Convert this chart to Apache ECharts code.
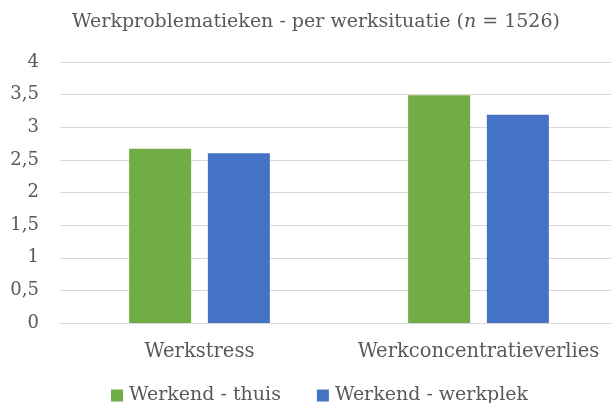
<!DOCTYPE html>
<html>
<head>
<meta charset="utf-8">
<script src="https://cdn.jsdelivr.net/npm/echarts@6/dist/echarts.min.js"></script>
<style>
  html, body { margin: 0; padding: 0; background: #fff; overflow: hidden; }
  /* source chart is wider than the visible 611px crop */
  #chart { width: 632px; height: 403px; }
</style>
</head>
<body>
<div id="chart"></div>
<script>
const categories = ["Werkstress", "Werkconcentratieverlies"];
const seriesNames = ["Werkend - thuis", "Werkend - werkplek"];
const thuis = [2.67, 3.49];
const werkplek = [2.60, 3.19];
const yTicks = [0, 0.5, 1, 1.5, 2, 2.5, 3, 3.5, 4];

const FONT = "DejaVu Serif";
const GREY = "#595959";

const chart = echarts.init(document.getElementById("chart"), null, { renderer: "canvas" });
chart.setOption({
  animation: false,
  title: {
    text: "Werkproblematieken - per werksituatie ({i|n} = 1526)",
    left: "center", top: 8,
    textStyle: {
      fontFamily: FONT, fontSize: 19, fontWeight: "normal", color: GREY,
      rich: { i: { fontFamily: FONT, fontSize: 19, fontStyle: "italic", color: GREY } },
    },
  },
  legend: {
    top: 386, left: 111, padding: 0, itemWidth: 12, itemHeight: 12, itemGap: 36, icon: "rect",
    data: seriesNames,
    textStyle: { fontFamily: FONT, fontSize: 19, color: GREY, padding: [0, 0, 0, 1] },
  },
  grid: { left: 60, right: 14, top: 62, bottom: 80, containLabel: false },
  xAxis: {
    type: "category", data: categories,
    axisLine: { lineStyle: { color: "#d9d9d9" } },
    axisTick: { show: false },
    axisLabel: { interval: 0, fontFamily: FONT, fontSize: 19.5, color: GREY, margin: 19 },
  },
  yAxis: {
    type: "value", min: yTicks[0], max: yTicks[yTicks.length - 1], interval: 0.5,
    axisLine: { show: false }, axisTick: { show: false },
    splitLine: { lineStyle: { color: "#d9d9d9", width: 1 } },
    axisLabel: {
      fontFamily: FONT, fontSize: 18, color: GREY, margin: 21,
      formatter: (v) => String(v).replace(".", ","),
    },
  },
  series: [
    { name: seriesNames[0], type: "bar", data: thuis, barWidth: 62, barGap: "27%",
      itemStyle: { color: "#70AD47" } },
    { name: seriesNames[1], type: "bar", data: werkplek, barWidth: 62,
      itemStyle: { color: "#4472C4" } },
  ],
});
</script>
</body>
</html>
